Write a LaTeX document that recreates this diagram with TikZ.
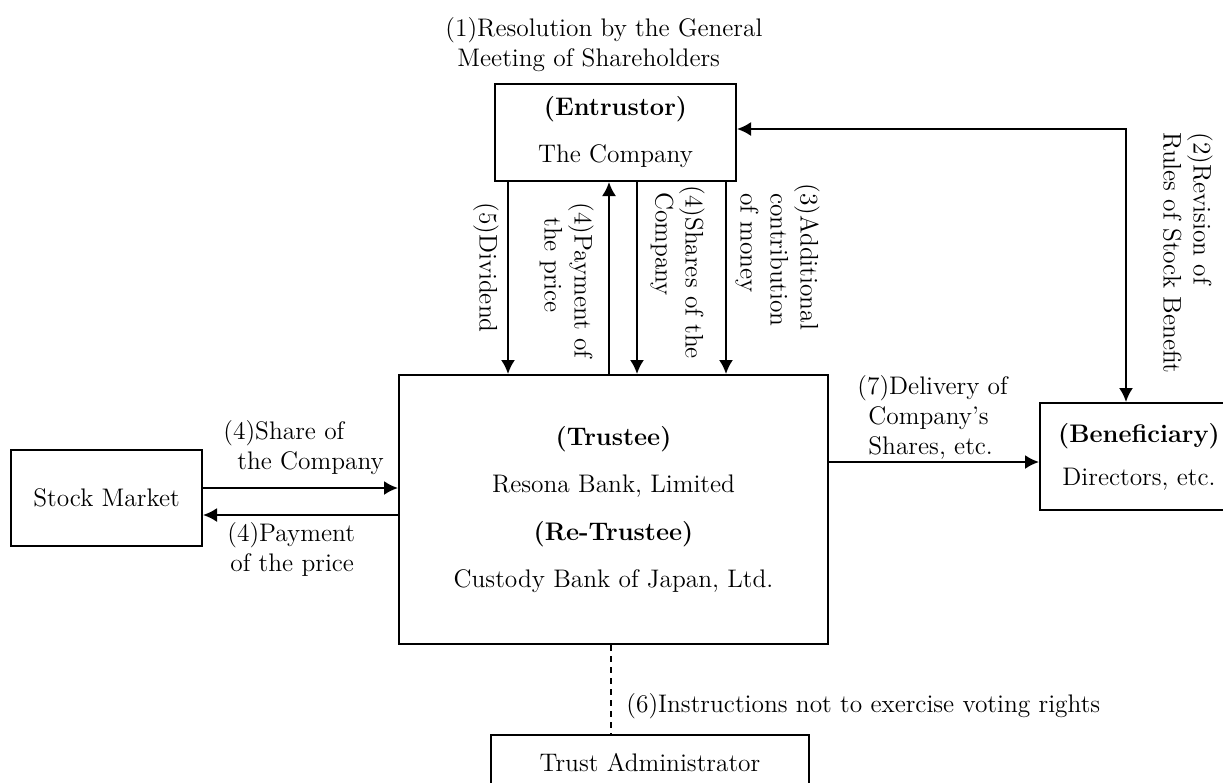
\documentclass[tikz,border=0pt]{standalone}
\usetikzlibrary{arrows.meta}
\begin{document}
\begin{tikzpicture}[x=0.5pt,y=-0.5pt,
		>={Latex[length=7pt,width=7pt]},
		every node/.style={font=\fontsize{12.7}{15}\selectfont},
		box/.style={draw=black, line width=1pt, align=center, inner sep=0pt},
		lbl/.style={anchor=north west, align=left, inner sep=0pt},
		vlbl/.style={lbl, rotate=-90},
		flow/.style={line width=1pt}]
		\useasboundingbox (0,0) rectangle (1223,783);
		
		\node[box, minimum width=120.5pt, minimum height=48.5pt] (ent) at (615.5,132.5) {\textbf{(Entrustor)}\\[8.5pt] The Company};
		\node[box, minimum width=214.5pt, minimum height=134.5pt] (tru) at (613.5,509.5) {\textbf{(Trustee)}\\[8.6pt] Resona Bank, Limited\\[8.6pt] \textbf{(Re-Trustee)}\\[8.6pt] Custody Bank of Japan, Ltd.};
		\node[box, minimum width=95.5pt, minimum height=48pt] (stk) at (106.5,498) {Stock Market};
		\node[box, minimum width=99pt, minimum height=53.5pt] (ben) at (1139,456.5) {\textbf{(Beneficiary)}\\[6.5pt] Directors, etc.};
		\node[box, minimum width=159pt, minimum height=28pt] (tadm) at (650,763) {Trust Administrator};
		
		\coordinate (xdiv) at (508,0);
		\coordinate (xpay) at (609,0);
		\coordinate (xshr) at (637,0);
		\coordinate (xadd) at (726,0);
		\coordinate (xins) at (611,0);
		\coordinate (yin) at (0,488);
		\coordinate (yout) at (0,515);
		\coordinate (ydel) at (0,462);
		\coordinate (crev) at (1126,129);
		
		\draw[flow,->] (xdiv |- ent.south) -- (xdiv |- tru.north);
		\draw[flow,<-] (xpay |- ent.south) -- (xpay |- tru.north);
		\draw[flow,->] (xshr |- ent.south) -- (xshr |- tru.north);
		\draw[flow,->] (xadd |- ent.south) -- (xadd |- tru.north);
		\draw[flow,->] (stk.east |- yin) -- (tru.west |- yin);
		\draw[flow,<-] (stk.east |- yout) -- (tru.west |- yout);
		\draw[flow,->] (tru.east |- ydel) -- (ben.west |- ydel);
		\draw[flow,<->] (ent.east |- crev) -- (crev) -- (crev |- ben.north);
		\draw[flow,dash pattern=on 3pt off 2.5pt] (xins |- tru.south) -- (xins |- tadm.north);
		
		\node[lbl] (resol) at (445,17) {(1)Resolution by the General\\\hspace*{6pt}Meeting of Shareholders};
		\node[lbl] (share) at (223,420) {(4)Share of\\\hspace*{7pt}the Company};
		\node[lbl] (price) at (227,522) {(4)Payment\\\hspace*{1.5pt}of the price};
		\node[lbl] (deliv) at (857,375) {(7)Delivery of\\\hspace*{5.5pt}Company's\\\hspace*{5.5pt}Shares, etc.};
		\node[lbl] (instr) at (626,693) {(6)Instructions not to exercise voting rights};
		\node[vlbl] (divi) at (499,202) {(5)Dividend};
		\node[vlbl] (paym) at (594,202) {(4)Payment of\\\hspace*{7.5pt}the price};
		\node[vlbl] (shares) at (705,185) {(4)Shares of the\\\hspace*{3.5pt}Company};
		\node[vlbl] (contr) at (820,183) {(3)Additional\\\hspace*{5pt}contribution\\\hspace*{5pt}of money};
		\node[vlbl] (revis) at (1213,132) {(2)Revision of\\Rules of Stock Benefit};
	\end{tikzpicture}
\end{document}
